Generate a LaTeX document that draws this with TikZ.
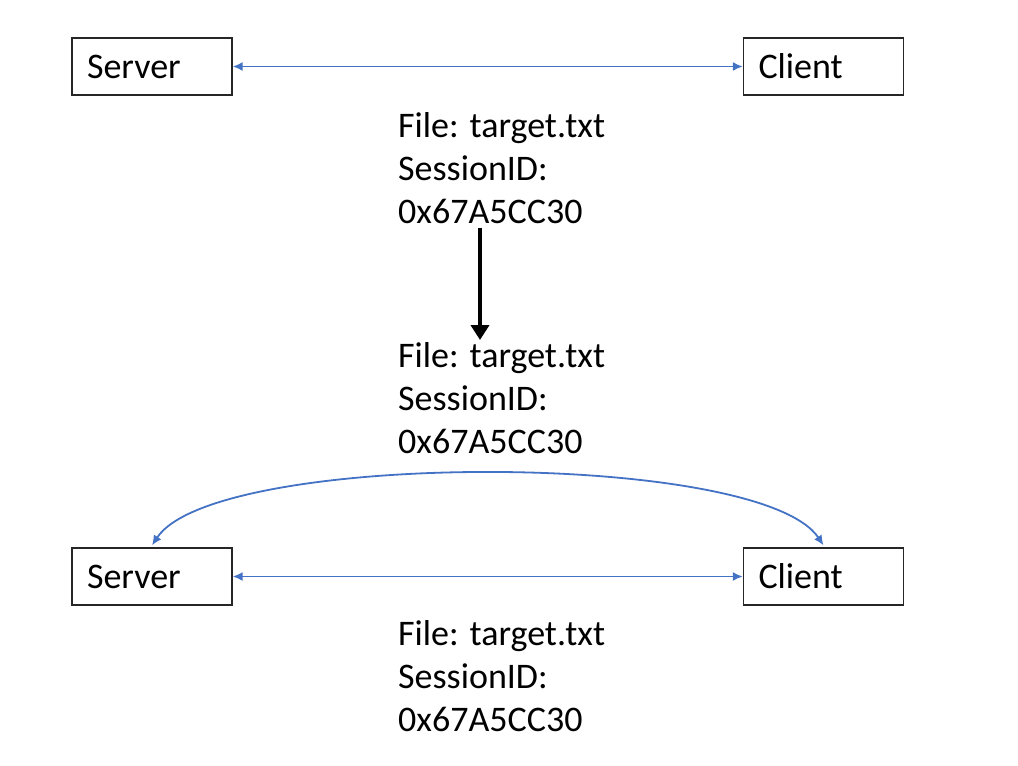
\documentclass[tikz,border=0pt]{standalone}
\usepackage{fontspec}
\setmainfont{Carlito}
\usetikzlibrary{arrows.meta}
\definecolor{linkblue}{RGB}{68,114,196}

\tikzset{
  host/.style={draw=black!85, line width=1.3pt, minimum height=57pt,
    text width=130pt, inner xsep=15pt, align=left,
    font=\fontsize{36}{43}\selectfont},
  info/.style={anchor=north west, inner sep=0pt, align=left,
    font=\fontsize{36}{43}\selectfont},
  link/.style={linkblue, line width=1.8pt,
    {Latex[length=10pt,width=9pt]}-{Latex[length=10pt,width=9pt]}},
  bigarrow/.style={black, line width=4.5pt, -{Triangle[length=15pt,width=18pt]}}
}

\begin{document}
\begin{tikzpicture}[x=1pt,y=-1pt]
\useasboundingbox (0,0) rectangle (1018,766);
% top pair
\node[host] (srvA) at (152,66.5) {Server};
\node[host] (cliA) at (823.5,66.5) {Client};
\draw[link] (srvA) -- (cliA);
\node[info] (blkA) at (398,112) {File: target.txt\\SessionID:\\0x67A5CC30};

% copied session
\coordinate (mid) at (480,0);
\node[info] (blkB) at (398,342) {File: target.txt\\SessionID:\\0x67A5CC30};
\draw[bigarrow] ([yshift=-4pt]blkA.south -| mid) -- ([yshift=2pt]blkB.north -| mid);

% bottom pair
\node[host] (srvB) at (152,576.5) {Server};
\node[host] (cliB) at (823.5,576.5) {Client};
\draw[link] (srvB) -- (cliB);
\draw[link] ([yshift=2pt]srvB.north) .. controls (215,450) and (760,450) .. ([yshift=2pt]cliB.north);
\node[info] (blkC) at (398,620) {File: target.txt\\SessionID:\\0x67A5CC30};
\end{tikzpicture}
\end{document}
